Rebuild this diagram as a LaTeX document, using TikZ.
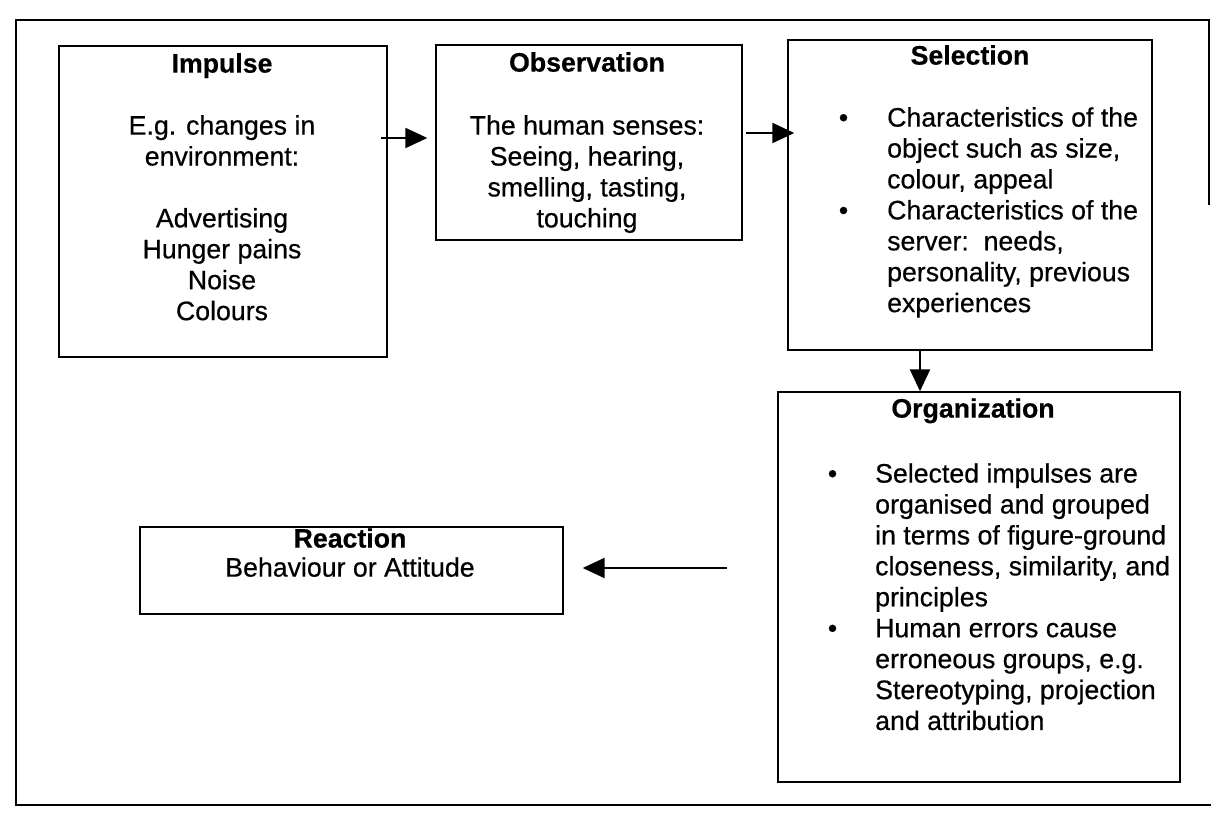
\documentclass[tikz,border=0pt]{standalone}
\usepackage{fontspec}
\setmainfont{Liberation Sans}[FakeBold=0.5]
\usetikzlibrary{arrows.meta}

\begin{document}
\begin{tikzpicture}[>={Triangle[length=0.44cm, width=0.4cm]}, x=0.02cm, y=-0.02cm,
  font=\fontsize{15.2}{17.6}\selectfont,
  box/.style={draw, line width=0.8pt, inner sep=0pt},
  head/.style={font=\fontsize{15.2}{17.6}\selectfont\bfseries, anchor=base, inner sep=0pt},
  body/.style={anchor=base, inner sep=0pt},
  arr/.style={->, line width=1.2pt}]
  \useasboundingbox (0,0) rectangle (1211,814);
  % outer frame
  \draw[line width=1.3pt] (1209,205) |- (16,20) |- (1211,805);

  % boxes
  \node[box, minimum width=6.56cm, minimum height=6.22cm] (impulse) at (223,201.5) {};
  \node[box, minimum width=6.12cm, minimum height=3.9cm] (observation) at (589,142.5) {};
  \node[box, minimum width=7.28cm, minimum height=6.2cm] (selection) at (970,195) {};
  \node[box, minimum width=8.04cm, minimum height=7.8cm] (organization) at (979,587) {};
  \node[box, minimum width=8.46cm, minimum height=1.74cm] (reaction) at (351.5,570.5) {};

  % texts
  \node[head] (impulse-head) at (222,72.6) {Impulse};
  \node[body] (impulse-body) at (222,134.6) {\begin{tabular}[t]{@{}c@{}}
    E.g. changes in\\ environment:\\ \\ Advertising\\ Hunger pains\\ Noise\\ Colours\end{tabular}};
  \node[head] (observation-head) at (587,71.6) {Observation};
  \node[body] (observation-body) at (587,134.6) {\begin{tabular}[t]{@{}c@{}}
    The human senses:\\ Seeing, hearing,\\ smelling, tasting,\\ touching\end{tabular}};
  \node[head] (selection-head) at (970,64.6) {Selection};
  \node[body, anchor=base west] (selection-body) at (838.5,126.6) {\begin{tabular}[t]{@{}c@{\hspace{0.78cm}}l@{}}
    \textbullet & Characteristics of the\\ & object such as size,\\ & colour, appeal\\
    \textbullet & Characteristics of the\\ & server:\ \ needs,\\ & personality, previous\\ & experiences\end{tabular}};
  \node[head] (organization-head) at (973,417.6) {Organization};
  \node[body, anchor=base west] (organization-body) at (827.5,482.6) {\begin{tabular}[t]{@{}c@{\hspace{0.76cm}}l@{}}
    \textbullet & Selected impulses are\\ & organised and grouped\\ & in terms of figure-ground\\
    & closeness, similarity, and\\ & principles\\
    \textbullet & Human errors cause\\ & erroneous groups, e.g.\\ & Stereotyping, projection\\ & and attribution\end{tabular}};
  \node[head] (reaction-head) at (350,547.6) {Reaction};
  \node[body] (reaction-body) at (350,576.6) {Behaviour or Attitude};

  % arrows
  \draw[arr, shorten <=-0.14cm, shorten >=0.16cm] (impulse.east |- 0,138) -- (observation.west |- 0,138);
  \draw[arr, shorten <=0.06cm, shorten >=-0.14cm] (observation.east |- 0,133) -- (selection.west |- 0,133);
  \draw[arr] (selection.south -| 920,0) -- (organization.north -| 920,0);
  \draw[arr, shorten <=1cm, shorten >=0.38cm] (organization.west |- 0,568) -- (reaction.east |- 0,568);
\end{tikzpicture}
\end{document}
